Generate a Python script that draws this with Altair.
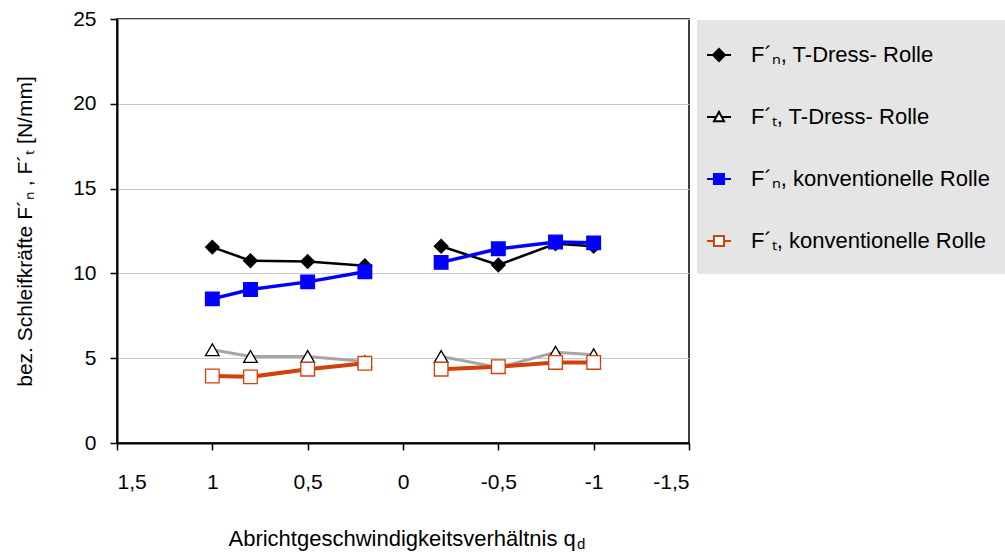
import altair as alt
import pandas as pd

# ---- data ----
x_vals = [1.0, 0.8, 0.5, 0.2, -0.2, -0.5, -0.8, -1.0]
fn_tdress = [11.55, 10.75, 10.7, 10.45, 11.6, 10.5, 11.75, 11.6]
ft_tdress = [5.5, 5.1, 5.1, 4.8, 5.1, 4.45, 5.35, 5.2]
fn_konv = [8.5, 9.05, 9.5, 10.1, 10.65, 11.45, 11.85, 11.8]
ft_konv = [3.95, 3.9, 4.35, 4.7, 4.35, 4.5, 4.75, 4.75]

series_names = [
    "F´ₙ, T-Dress- Rolle",
    "F´ₜ, T-Dress- Rolle",
    "F´ₙ, konventionelle Rolle",
    "F´ₜ, konventionelle Rolle",
]
series_values = [fn_tdress, ft_tdress, fn_konv, ft_konv]

line_colors = ["#000000", "#a6a6a6", "#0000ff", "#d2400c"]
line_widths = [2.5, 4, 3, 3]
point_fill = ["#000000", "#ffffff", "#0000ff", "#ffffff"]
point_stroke = ["#000000", "#000000", "#0000ff", "#d2400c"]
shapes = ["diamond", "triangle-up", "square", "square"]
legend_paths = [
    "M-1,0H1M-0.5,0L0,-0.5L0.5,0L0,0.5Z",
    "M-1,0H-0.22M0.22,0H1M-0.42,0.35L0,-0.42L0.42,0.35Z",
    "M-1,0H1M-0.42,-0.42H0.42V0.42H-0.42Z",
    "M-1,0H-0.42M0.42,0H1M-0.42,-0.42H0.42V0.42H-0.42Z",
]

x_ticks = [1.5, 1.0, 0.5, 0.0, -0.5, -1.0, -1.5]
y_ticks = [0, 5, 10, 15, 20, 25]

FONT = "Liberation Sans, Arial, sans-serif"

rows = []
for name, vals in zip(series_names, series_values):
    for q, v in zip(x_vals, vals):
        rows.append({"series": name, "q": q, "F": v, "side": "pos" if q > 0 else "neg"})
df = pd.DataFrame(rows)

x_enc = alt.X(
    "q:Q",
    scale=alt.Scale(domain=[1.5, -1.5], nice=False, zero=False),
    axis=alt.Axis(
        values=x_ticks,
        labelExpr="replace(toString(datum.value), '.', ',')",
        title="Abrichtgeschwindigkeitsverhältnis q",
        grid=False,
        labelPadding=21,
        titleX=111,
        titleY=102,
        titleAlign="left",
        titleBaseline="alphabetic",
        titleFontSize=22,
    ),
)
y_enc = alt.Y(
    "F:Q",
    scale=alt.Scale(domain=[0, 25], nice=False),
    axis=alt.Axis(
        values=y_ticks,
        title="bez. Schleifkräfte  F´ₙ , F´ₜ  [N/mm]",
        grid=True,
        gridColor="#c8c8c8",
        labelPadding=14,
        titlePadding=37,
        titleFontSize=21,
    ),
)

base = alt.Chart(df)

lines = base.mark_line().encode(
    x=x_enc,
    y=y_enc,
    color=alt.Color("series:N", scale=alt.Scale(domain=series_names, range=line_colors), legend=None),
    strokeWidth=alt.StrokeWidth("series:N", scale=alt.Scale(domain=series_names, range=line_widths), legend=None),
    detail="side:N",
)

points = base.mark_point(size=185, opacity=1, strokeWidth=1.3).encode(
    x="q:Q",
    y="F:Q",
    shape=alt.Shape("series:N", scale=alt.Scale(domain=series_names, range=shapes), legend=None),
    fill=alt.Fill("series:N", scale=alt.Scale(domain=series_names, range=point_fill), legend=None),
    stroke=alt.Stroke("series:N", scale=alt.Scale(domain=series_names, range=point_stroke), legend=None),
)

leg = alt.Legend(
    title=None,
    orient="none",
    legendX=580,
    legendY=1,
    fillColor="#e5e5e5",
    padding=22,
    rowPadding=38,
    symbolSize=576,
    symbolStrokeWidth=2,
    symbolOffset=-13,
    labelFont=FONT,
    labelFontSize=22,
    labelColor="#000000",
    labelOffset=19,
    labelLimit=400,
)

legend_layer = base.mark_point(size=576, opacity=1, strokeWidth=2).encode(
    x="q:Q",
    y="F:Q",
    shape=alt.Shape("series:N", scale=alt.Scale(domain=series_names, range=legend_paths), legend=leg),
    fill=alt.Fill("series:N", scale=alt.Scale(domain=series_names, range=point_fill), legend=leg),
    stroke=alt.Stroke("series:N", scale=alt.Scale(domain=series_names, range=point_stroke), legend=leg),
).transform_filter("false")

sub_d = alt.Chart(pd.DataFrame({"t": ["d"]})).mark_text(
    font=FONT, fontSize=15, align="left", baseline="alphabetic", color="#000000"
).encode(text="t:N", x=alt.value(460), y=alt.value(424 + 106))

chart = (
    alt.layer(lines, points, legend_layer, sub_d)
    .resolve_scale(shape="independent", fill="independent", stroke="independent")
    .properties(
        width=572,
        height=424,
        autosize=alt.AutoSizeParams(type="none"),
        padding={"left": 117, "top": 19, "right": 316, "bottom": 110},
    )
    .configure_view(stroke="#000000", strokeWidth=1.5)
    .configure_axis(
        domainColor="#000000",
        domainWidth=2,
        tickColor="#000000",
        tickWidth=1.5,
        tickSize=7,
        labelFont=FONT,
        labelFontSize=21,
        labelColor="#000000",
        titleFont=FONT,
        titleFontWeight="normal",
        titleColor="#000000",
    )
)

chart.save("out.html", embed_options={"renderer": "svg", "actions": False})
